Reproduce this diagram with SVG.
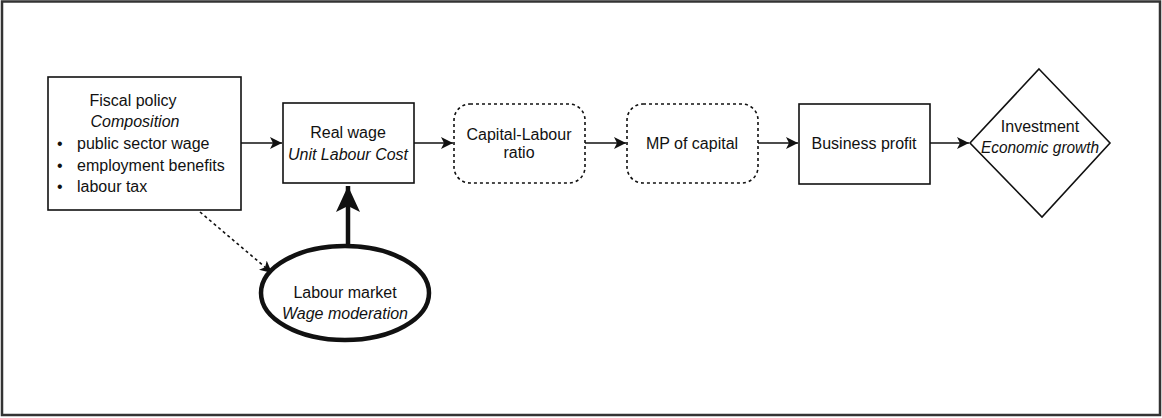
<svg xmlns="http://www.w3.org/2000/svg" width="1162" height="418" viewBox="0 0 1162 418">
<style>
text{font-family:"Liberation Sans",Arial,sans-serif;font-size:16px;fill:#111}
.it{font-style:italic}
.box{fill:#fff;stroke:#111;stroke-width:1.6}
.dash{fill:#fff;stroke:#111;stroke-width:1.6;stroke-dasharray:3 3}
.ln{fill:none;stroke:#111;stroke-width:1.6}
</style>
<defs>
<marker id="ah" markerUnits="userSpaceOnUse" markerWidth="14" markerHeight="12" refX="12" refY="6" orient="auto">
<path d="M0,0 L12,6 L0,12 L3,6 z" fill="#111"/>
</marker>
<marker id="ahb" markerUnits="userSpaceOnUse" markerWidth="28" markerHeight="26" refX="26" refY="12" orient="auto">
<path d="M0,0 L26,12 L0,24 L6,12 z" fill="#111"/>
</marker>
</defs>
<rect x="2" y="1.5" width="1158" height="413.5" fill="#fff" stroke="#333" stroke-width="2.5"/>
<g id="connectors">
<line class="ln" x1="241" y1="143" x2="282" y2="143" marker-end="url(#ah)"/>
<line class="ln" x1="414" y1="143" x2="453" y2="143" marker-end="url(#ah)"/>
<line class="ln" x1="585" y1="143" x2="626" y2="143" marker-end="url(#ah)"/>
<line class="ln" x1="758" y1="143" x2="798" y2="143" marker-end="url(#ah)"/>
<line class="ln" x1="930" y1="143" x2="969" y2="143" marker-end="url(#ah)"/>
<line class="ln" x1="200" y1="212" x2="272" y2="273" stroke-dasharray="3 3" marker-end="url(#ah)"/>
<line x1="348" y1="246" x2="348" y2="186" stroke="#111" stroke-width="4.5" marker-end="url(#ahb)"/>
</g>
<g id="fiscal">
<rect class="box" x="48" y="77" width="193" height="133"/>
<text x="133" y="106" text-anchor="middle">Fiscal policy</text>
<text class="it" x="135" y="127" text-anchor="middle">Composition</text>
<text x="57" y="149">•</text><text x="77" y="149">public sector wage</text>
<text x="57" y="171">•</text><text x="77" y="171">employment benefits</text>
<text x="57" y="192">•</text><text x="77" y="192">labour tax</text>
</g>
<g id="realwage">
<rect class="box" x="283" y="103" width="131" height="80"/>
<text x="348" y="138" text-anchor="middle">Real wage</text>
<text class="it" x="348" y="160" text-anchor="middle">Unit Labour Cost</text>
</g>
<g id="caplab">
<rect class="dash" x="454" y="104" width="131" height="79" rx="16"/>
<text x="519" y="140" text-anchor="middle">Capital-Labour</text>
<text x="519" y="158" text-anchor="middle">ratio</text>
</g>
<g id="mp">
<rect class="dash" x="627" y="104" width="131" height="79" rx="16"/>
<text x="692" y="149" text-anchor="middle">MP of capital</text>
</g>
<g id="profit">
<rect class="box" x="799" y="104" width="131" height="80"/>
<text x="864" y="149" text-anchor="middle">Business profit</text>
</g>
<g id="investment">
<polygon class="box" points="1039,69 1110,143 1042,217 970,143"/>
<text x="1040" y="132" text-anchor="middle">Investment</text>
<text class="it" x="1040" y="153" text-anchor="middle" textLength="118" lengthAdjust="spacingAndGlyphs">Economic growth</text>
</g>
<g id="labour">
<ellipse cx="345" cy="293" rx="84" ry="47" fill="#fff" stroke="#111" stroke-width="4.5"/>
<text x="345" y="298" text-anchor="middle">Labour market</text>
<text class="it" x="345" y="319" text-anchor="middle">Wage moderation</text>
</g>
</svg>
